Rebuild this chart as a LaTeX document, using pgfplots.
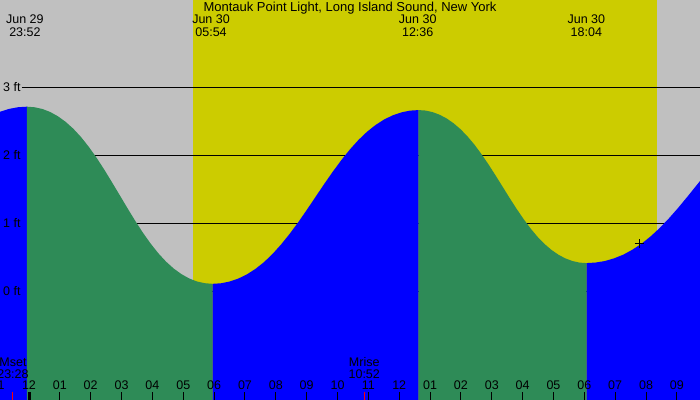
\documentclass[border=0pt]{standalone}
\usepackage{fontspec}
\setmainfont{Liberation Sans}
\usepackage{pgfplots}
\pgfplotsset{compat=1.18}

\definecolor{sky}{RGB}{192,192,192}
\definecolor{day}{RGB}{204,204,0}
\definecolor{ebb}{RGB}{46,139,87}
\definecolor{flood}{RGB}{0,0,255}

\begin{document}
\fontsize{12.5bp}{14bp}\selectfont
\begin{tikzpicture}
\begin{axis}[
  name=ax,
  scale only axis,
  width=700bp, height=400bp,
  xmin=-0.940, xmax=21.750,
  ymin=-1.5985, ymax=4.2838,
  axis background/.style={fill=sky},
  axis line style={draw=none},
  axis on top,
  ytick=\empty,
  xtick={0,1,...,21},
  xticklabels={12,01,02,03,04,05,06,07,08,09,10,11,12,01,02,03,04,05,06,07,08,09},
  xtick pos=left,
  tick align=inside,
  major tick length=8bp,
  tick style={black, line width=1bp},
  xticklabel style={anchor=base, yshift=10bp, inner sep=0pt, font=\fontsize{12.5bp}{14bp}\selectfont},
  extra x ticks={0},
  extra x tick labels={},
  extra x tick style={tick style={black, line width=3bp}},
]

% daylight 05:19 - 20:21
\addplot[draw=none, fill=day] coordinates {(5.316,-2) (5.316,5) (20.357,5) (20.357,-2)} -- cycle;

% height lines
\addplot[black, line width=1bp] coordinates {(-0.227,3) (22,3)};
\addplot[black, line width=1bp] coordinates {(-0.227,2) (22,2)};
\addplot[black, line width=1bp] coordinates {(-0.227,1) (22,1)};
\addplot[black, line width=1bp] coordinates {(-0.227,0) (22,0)};

% tide (hours from midnight, feet)
\addplot[draw=none, fill=flood] coordinates {
  (-1.232,-2) (-1.232,2.579) (-0.940,2.640) (-0.648,2.682) (-0.357,2.707)
  (-0.065,2.715) (-0.065,-2)} -- cycle;
\addplot[draw=none, fill=ebb] coordinates {
  (-0.065,-2) (-0.065,2.715) (0.186,2.706) (0.436,2.681) (0.687,2.637)
  (0.937,2.574) (1.188,2.492) (1.438,2.390) (1.689,2.267) (1.939,2.124)
  (2.190,1.964) (2.440,1.789) (2.691,1.603) (2.942,1.413) (3.192,1.222)
  (3.443,1.036) (3.693,0.861) (3.944,0.701) (4.194,0.558) (4.445,0.435)
  (4.695,0.333) (4.946,0.251) (5.196,0.188) (5.447,0.144) (5.697,0.119)
  (5.948,0.110) (5.948,-2)} -- cycle;
\addplot[draw=none, fill=flood] coordinates {
  (5.948,-2) (5.948,0.110) (6.226,0.118) (6.505,0.144) (6.783,0.187)
  (7.061,0.248) (7.339,0.329) (7.618,0.429) (7.896,0.550) (8.174,0.690)
  (8.452,0.847) (8.731,1.018) (9.009,1.200) (9.287,1.388) (9.565,1.575)
  (9.844,1.757) (10.122,1.928) (10.400,2.085) (10.678,2.225) (10.957,2.346)
  (11.235,2.446) (11.513,2.527) (11.791,2.588) (12.070,2.631) (12.348,2.657)
  (12.626,2.665) (12.626,-2)} -- cycle;
\addplot[draw=none, fill=ebb] coordinates {
  (12.626,-2) (12.626,2.665) (12.853,2.658) (13.080,2.635) (13.307,2.597)
  (13.534,2.543) (13.760,2.472) (13.987,2.384) (14.214,2.278) (14.441,2.155)
  (14.668,2.016) (14.895,1.865) (15.122,1.705) (15.349,1.540) (15.575,1.375)
  (15.802,1.215) (16.029,1.064) (16.256,0.925) (16.483,0.802) (16.710,0.696)
  (16.937,0.608) (17.164,0.537) (17.390,0.483) (17.617,0.445) (17.844,0.422)
  (18.071,0.415) (18.071,-2)} -- cycle;
\addplot[draw=none, fill=flood] coordinates {
  (18.071,-2) (18.071,0.415) (18.368,0.423) (18.665,0.445) (18.962,0.484)
  (19.260,0.538) (19.557,0.611) (19.854,0.700) (20.151,0.808) (20.448,0.933)
  (20.745,1.074) (21.042,1.227) (21.339,1.390) (21.637,1.558) (21.934,1.725)
  (21.934,-2)} -- cycle;

% now marker
\addplot[only marks, mark=+, mark size=4.5bp, black, line width=1bp] coordinates {(19.773,0.696)};

% moon ticks
\addplot[red, line width=1bp] coordinates {(-0.533,-1.7) (-0.533,-1.48)};
\addplot[red, line width=1bp] coordinates {(10.867,-1.7) (10.867,-1.48)};

% labels
\node[anchor=base, font=\fontsize{13bp}{15bp}\selectfont] at (10.405,4.115) {Montauk Point Light, Long Island Sound, New York};

\node[anchor=base] at (-0.133,3.931) {Jun 29};
\node[anchor=base] at (-0.133,3.754) {23:52};
\node[anchor=base] at (5.9,3.931) {Jun 30};
\node[anchor=base] at (5.9,3.754) {05:54};
\node[anchor=base] at (12.6,3.931) {Jun 30};
\node[anchor=base] at (12.6,3.754) {12:36};
\node[anchor=base] at (18.067,3.931) {Jun 30};
\node[anchor=base] at (18.067,3.754) {18:04};

\node[anchor=west, inner sep=0pt] at (-0.843,3) {3 ft};
\node[anchor=west, inner sep=0pt] at (-0.843,2) {2 ft};
\node[anchor=west, inner sep=0pt] at (-0.843,1) {1 ft};
\node[anchor=west, inner sep=0pt] at (-0.843,0) {0 ft};

\node[anchor=base] at (-0.519,-1.106) {Mset};
\node[anchor=base] at (-0.519,-1.275) {23:28};
\node[anchor=base] at (10.867,-1.106) {Mrise};
\node[anchor=base] at (10.867,-1.275) {10:52};

\node[anchor=base] at (-1,-1.451) {11};
\end{axis}
\pgfresetboundingbox
\path (ax.south west) rectangle (ax.north east);
\end{tikzpicture}
\end{document}
